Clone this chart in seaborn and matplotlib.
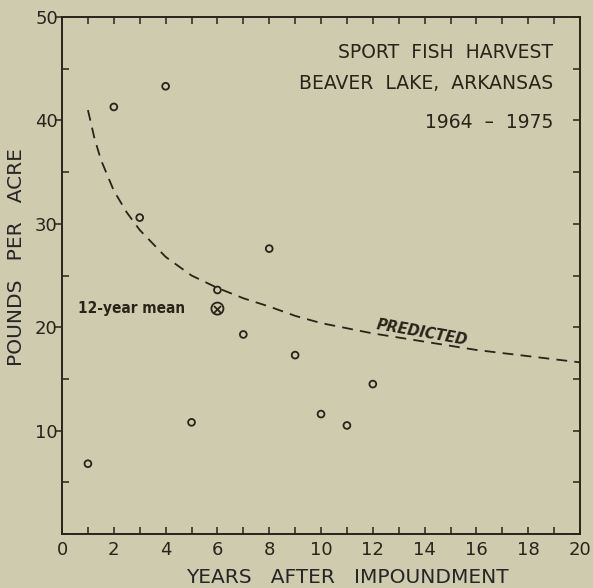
import numpy as np
import pandas as pd
import seaborn as sns
import matplotlib.pyplot as plt
import matplotlib.lines as mlines
from matplotlib.ticker import MultipleLocator

# valores
anos = [1, 2, 3, 4, 5, 6, 7, 8, 9, 10, 11, 12]
libras_acre = [6.8, 41.3, 30.6, 43.3, 10.8, 23.6, 19.3, 27.6, 17.3, 11.6, 10.5, 14.5]

# curva prevista (lida ponto a ponto)
prev_x = [1, 1.25, 1.5, 2, 2.5, 3, 4, 5, 6, 7, 8, 9, 10, 12, 14, 16, 18, 20]
prev_y = [41.0, 38.3, 36.2, 33.2, 31.1, 29.4, 26.8, 25.0, 23.8, 22.8, 22.0, 21.1, 20.4,
          19.4, 18.6, 17.8, 17.2, 16.6]

media_x = 6
media_y = 21.8

fundo = '#cecbae'
tinta = '#2b2219'

sns.set_style("ticks")
plt.rcParams['font.family'] = ['DejaVu Sans']
plt.rcParams['text.color'] = tinta
plt.rcParams['axes.edgecolor'] = tinta
plt.rcParams['xtick.color'] = tinta
plt.rcParams['ytick.color'] = tinta

fig = plt.figure(figsize=(5.93, 5.88), dpi=100, facecolor=fundo)
ax = fig.add_axes([0.1046, 0.0918, 0.8735, 0.8793], facecolor=fundo)

df = pd.DataFrame({'ano': anos, 'libras': libras_acre})
df_prev = pd.DataFrame({'x': prev_x, 'y': prev_y})

sns.lineplot(data=df_prev, x='x', y='y', ax=ax, color=tinta, linewidth=1.3,
             linestyle=(0, (6, 4)))
sns.scatterplot(data=df, x='ano', y='libras', ax=ax, marker='o', s=24,
                facecolors='none', edgecolor=tinta, linewidth=1.3)

# media de 12 anos (circulo com x)
ax.scatter([media_x], [media_y], s=75, facecolors='none', edgecolors=tinta, linewidths=1.3, zorder=5)
ax.scatter([media_x], [media_y], s=25, marker='x', color=tinta, linewidths=1.3, zorder=5)
ax.text(media_x - 1.25, media_y, '12-year mean', ha='right', va='center',
        fontsize=11, fontweight='bold', fontstretch='condensed', color=tinta)

ax.text(13.9, 19.5, 'PREDICTED', ha='center', va='center', rotation=-10,
        fontsize=10.5, fontweight='bold', fontstyle='italic', color=tinta)

# titulo dentro do grafico
ax.text(18.96, 46.6, 'SPORT  FISH  HARVEST', ha='right', va='center', fontsize=13.5, color=tinta)
ax.text(18.96, 43.6, 'BEAVER  LAKE,  ARKANSAS', ha='right', va='center', fontsize=13.5, color=tinta)
ax.text(18.96, 39.8, '1964  \u2013  1975', ha='right', va='center', fontsize=13.5, color=tinta)

ax.set_xlim(0, 20)
ax.set_ylim(0, 50)
ax.xaxis.set_major_locator(MultipleLocator(2))
ax.xaxis.set_minor_locator(MultipleLocator(1))
ax.set_yticks([10, 20, 30, 40, 50])
ax.yaxis.set_minor_locator(MultipleLocator(5))
ax.set_ylim(0, 50)

ax.tick_params(which='both', direction='in', top=True, right=True, width=1.1,
               labelsize=13, length=5)
ax.tick_params(axis='x', which='major', pad=5)
ax.tick_params(axis='y', which='major', pad=3)
# ticks principais do lado esquerdo para fora
for t in ax.yaxis.get_major_ticks():
    t.tick1line.set_marker(mlines.TICKLEFT)

for s in ax.spines.values():
    s.set_linewidth(1.4)

ax.set_xlabel('YEARS   AFTER   IMPOUNDMENT', fontsize=14.5, labelpad=6)
ax.xaxis.set_label_coords(0.55, -0.065)
ax.set_ylabel('POUNDS   PER   ACRE', fontsize=14.5, labelpad=8)
ax.yaxis.set_label_coords(-0.07, 0.535)

plt.savefig('out.png', dpi=100, facecolor=fundo)
